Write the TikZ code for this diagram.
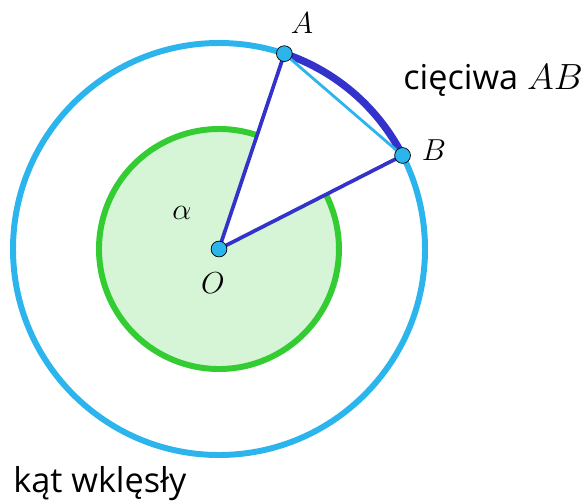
\documentclass[tikz,border=0pt]{standalone}
\usepackage{fontspec}
\setmainfont{Open Sans}
\usetikzlibrary{positioning}
\definecolor{cSky}{HTML}{2CB5EC}
\definecolor{cNavy}{HTML}{3333CC}
\definecolor{cGreen}{HTML}{33CC33}
\definecolor{cGreenFill}{HTML}{D6F5D6}

\begin{document}
\begin{tikzpicture}[
  x=0.02cm, y=0.02cm,
  ring/.style={draw=cSky, line width=3.4pt},
  radius line/.style={draw=cNavy, line width=2.1pt},
  dot/.style={circle, fill=cSky, draw=black, line width=0.4pt,
    minimum size=9pt, inner sep=0pt},
  ptlabel/.style={font=\fontsize{18}{21}\selectfont, inner sep=0pt},
  caption/.style={font=\fontsize{19.5}{23}\selectfont, inner sep=0pt}
]
  \useasboundingbox (-219,-252) rectangle (368,249);

  \coordinate (O) at (0,0);
  \coordinate (A) at (71.5:206);
  \coordinate (B) at (27:206);

  % reflex angle
  \fill[cGreenFill] (O) -- (71.5:120) arc[start angle=71.5, end angle=387, radius=120] -- cycle;
  \draw[cGreen, line width=3.4pt] (71.5:120) arc[start angle=71.5, end angle=387, radius=120];

  \draw[ring] (O) circle[radius=206];
  \draw[cNavy, line width=4.2pt] (B) arc[start angle=27, end angle=71.5, radius=206];
  \draw[cSky, line width=1.6pt] (A) -- (B);
  \draw[radius line] (A) -- (O) -- (B);

  \node[dot] (dO) at (O) {};
  \node[dot] (dA) at (A) {};
  \node[dot] (dB) at (B) {};

  \node[ptlabel] (lA) at (83,226) {$A$};
  \node[ptlabel] (lB) at (215,99) {$B$};
  \node[ptlabel] (lO) at (-6,-34) {$O$};
  \node[ptlabel] (alpha) at (-37,36) {$\alpha$};

  \node[caption, anchor=west] (chord) at (184,169) {cięciwa $AB$};
  \node[caption, anchor=base west] (reflex) at (-206,-243) {kąt wklęsły};
\end{tikzpicture}
\end{document}
